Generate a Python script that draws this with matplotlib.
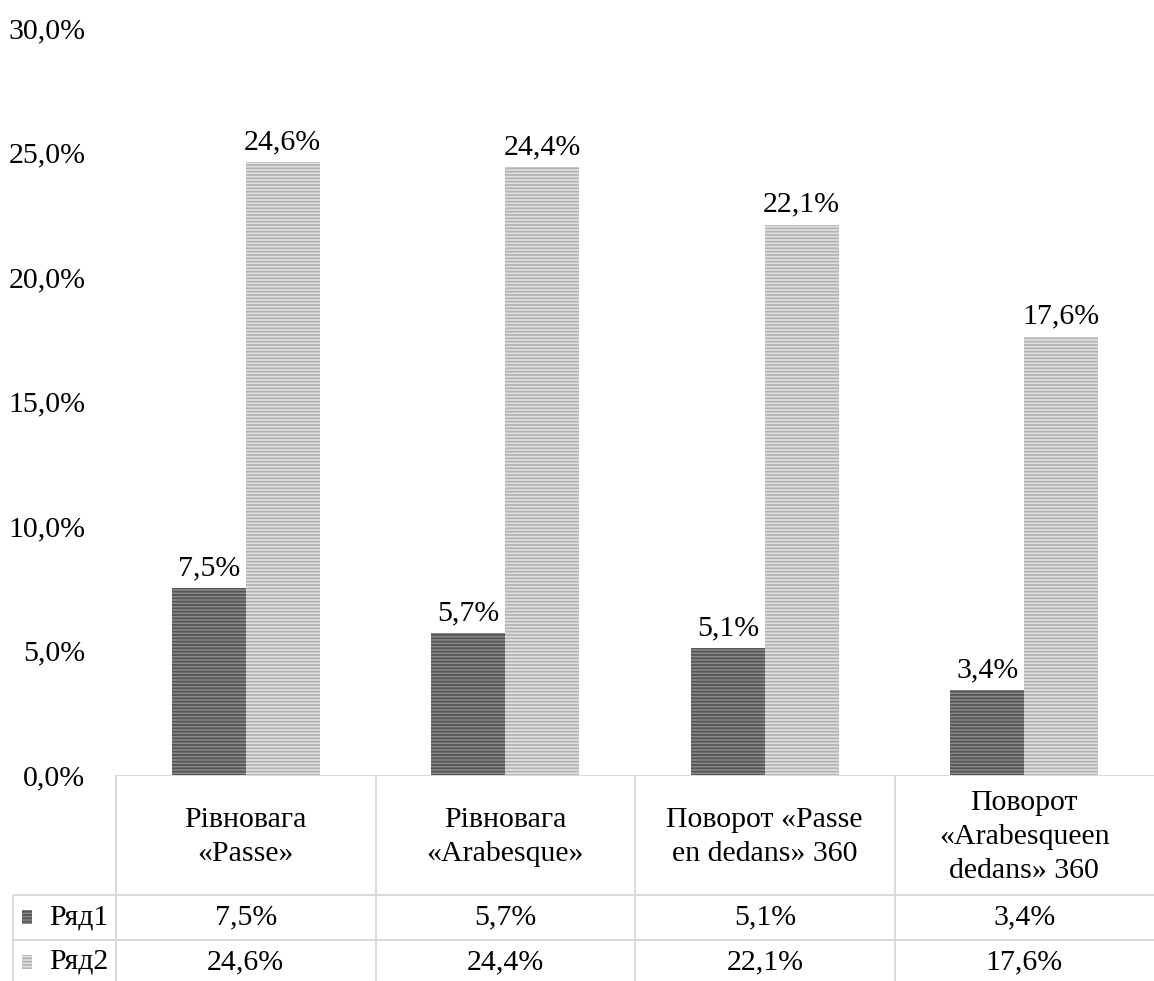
import matplotlib
matplotlib.use('Agg')
import matplotlib.pyplot as plt
import numpy as np
from matplotlib.patches import Rectangle
from matplotlib.ticker import FuncFormatter

plt.rcParams['font.family'] = ['Liberation Serif', 'DejaVu Serif']
plt.rcParams['hatch.linewidth'] = 1.3

categories = ['Рівновага\n«Passe»', 'Рівновага\n«Arabesque»',
              'Поворот «Passe\nen dedans» 360', 'Поворот\n«Arabesqueen\ndedans» 360']
series_names = ['Ряд1', 'Ряд2']
row1 = [7.5, 5.7, 5.1, 3.4]
row2 = [24.6, 24.4, 22.1, 17.6]

FACE = ['#8a8a8a', '#e2e2e2']
STRIPE = ['#555555', '#b4b4b4']
GRID = '#d9d9d9'
FS = 21.5

W, H = 1154, 981


def pct(v):
    return f'{v:.1f}%'.replace('.', ',')


fig = plt.figure(figsize=(W / 100, H / 100), dpi=100)
left, right, bottom, top = 116, 1154, 775, 28
ax = fig.add_axes([left / W, (H - bottom) / H, (right - left) / W, (bottom - top) / H])

x = np.arange(len(categories))
bw = 0.285
for i, vals in enumerate([row1, row2]):
    b = ax.bar(x + (i - 0.5) * bw, vals, bw, facecolor=FACE[i], edgecolor=STRIPE[i],
               hatch='-----', linewidth=0)
    ax.bar_label(b, labels=[pct(v) for v in vals], padding=5, fontsize=FS)

ax.set_xlim(-0.5, len(categories) - 0.5)
ax.set_ylim(0, 30)
ax.set_yticks(np.arange(0, 31, 5))
ax.yaxis.set_major_formatter(FuncFormatter(lambda v, p: pct(v)))
ax.tick_params(axis='y', length=0, pad=22, labelsize=FS)
ax.set_xticks([])
for s in ax.spines.values():
    s.set_visible(False)

# data table under the plot, drawn in its own axes in pixel units
tax = fig.add_axes([0, 0, 1, (H - bottom) / H])
tax.set_xlim(0, W)
tax.set_ylim(H, bottom)
tax.axis('off')

col_w = (right - left) / len(categories)
col_edges = [left + k * col_w for k in range(len(categories) + 1)]
lab_left = 13
row_y = [bottom, 895, 940, H + 5]
lw = 1.4

tax.hlines(row_y[0], left, right, color=GRID, lw=lw)
tax.hlines(row_y[1:3], lab_left, right, color=GRID, lw=lw)
tax.vlines(col_edges[:-1], row_y[0], row_y[-1], color=GRID, lw=lw)
tax.vlines(lab_left, row_y[1], row_y[-1], color=GRID, lw=lw)

for c, name in enumerate(categories):
    cx = (col_edges[c] + col_edges[c + 1]) / 2
    tax.text(cx, (row_y[0] + row_y[1]) / 2 + 2, name, ha='center', va='center',
             fontsize=FS, linespacing=1.38)
    for r, vals in enumerate([row1, row2]):
        tax.text(cx, 917 + 45 * r, pct(vals[c]), ha='center', va='center', fontsize=FS)

# row labels with legend keys
for r, name in enumerate(series_names):
    yc = 917 + 45 * r
    tax.text(left - 8, yc, name, ha='right', va='center', fontsize=FS)
    tax.add_patch(Rectangle((22, yc - 7), 10, 14, facecolor=FACE[r],
                            edgecolor=STRIPE[r], hatch='-----', linewidth=0))

fig.savefig('out.png', dpi=100)
